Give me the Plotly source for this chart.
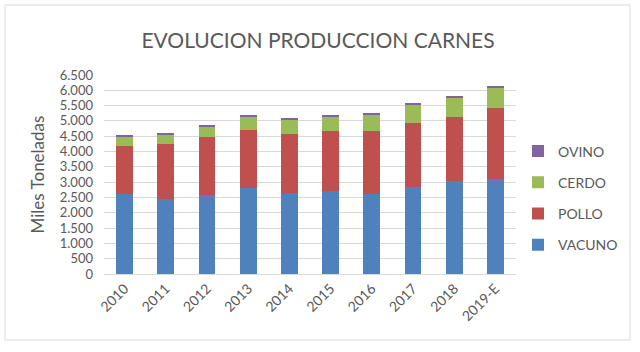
import plotly.graph_objects as go

years = ["2010", "2011", "2012", "2013", "2014", "2015", "2016", "2017", "2018", "2019-E"]
vacuno = [2600, 2460, 2580, 2800, 2660, 2710, 2620, 2830, 3040, 3090]
pollo = [1580, 1785, 1895, 1915, 1915, 1950, 2060, 2110, 2080, 2320]
cerdo = [305, 325, 335, 435, 455, 500, 535, 600, 645, 685]
ovino = [45, 35, 45, 45, 50, 45, 45, 35, 45, 45]

series = [
    ("VACUNO", vacuno, "#4F81BD", 4),
    ("POLLO", pollo, "#C0504D", 3),
    ("CERDO", cerdo, "#9BBB59", 2),
    ("OVINO", ovino, "#8064A2", 1),
]

FONT = "Lato, Open Sans, sans-serif"
fig = go.Figure()
for name, vals, col, rank in series:
    fig.add_trace(go.Bar(x=years, y=vals, name=name, marker_color=col,
                         marker_line_width=0, legendgroup=name, legendrank=rank))

L, R, T, B = 104, 516, 75, 274
W, H = 640, 352
def px(x):
    return (x - L) / (R - L)
def py(y):
    return (B - y) / (B - T)

fig.update_layout(
    width=W, height=H,
    margin=dict(l=L, r=W - R, t=T, b=H - B, autoexpand=False),
    barmode="stack", bargap=0.59,
    paper_bgcolor="white", plot_bgcolor="white",
    separators=",.",
    font=dict(family=FONT, color="#595959", size=14),
    title=dict(text="EVOLUCION PRODUCCION CARNES", x=px(318), xref="paper",
               xanchor="center", y=1 - 41 / H, yanchor="middle",
               font=dict(size=21, color="#595959", family=FONT)),
    legend=dict(x=px(518), xanchor="left", y=py(198), yanchor="middle",
                traceorder="grouped", tracegroupgap=10,
                font=dict(size=14, color="#595959"), itemwidth=30),
    showlegend=True,
    shapes=[dict(type="rect", xref="paper", yref="paper",
                 x0=px(5), x1=px(630), y0=py(340), y1=py(5),
                 line=dict(color="#D9D9D9", width=1), layer="below")],
)
fig.update_yaxes(range=[0, 6500], dtick=500, tickformat=",d",
                 gridcolor="#D9D9D9", gridwidth=1, zeroline=False,
                 showline=False, ticks="", ticklabelstandoff=10,
                 title=dict(text="Miles Toneladas", font=dict(size=17, color="#595959"), standoff=10),
                 tickfont=dict(size=13, color="#595959"))
fig.update_xaxes(tickangle=-45, showline=True, linecolor="#D9D9D9", linewidth=1,
                 ticks="", tickfont=dict(size=14, color="#595959"))

fig.write_html("out.html")
